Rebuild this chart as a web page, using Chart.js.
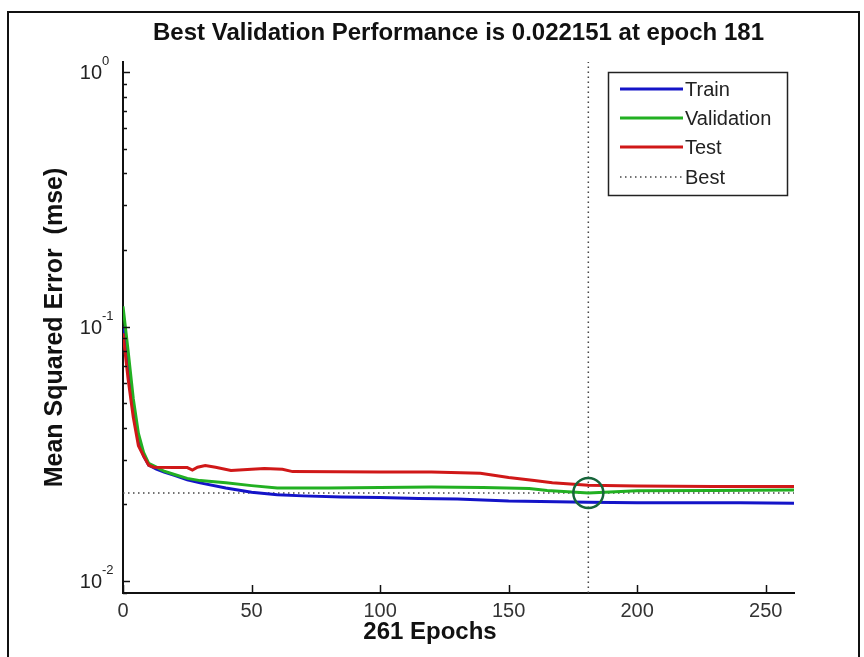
<!DOCTYPE html>
<html>
<head>
<meta charset="utf-8">
<script src="https://cdn.jsdelivr.net/npm/chart.js@4.4.0/dist/chart.umd.min.js"></script>
<style>
  html, body { margin: 0; padding: 0; background: #fff; }
  #wrap { position: relative; width: 864px; height: 657px; overflow: hidden; }
  #frame { position: absolute; left: 7px; top: 11px; width: 849px; height: 700px; border: 2px solid #111; }
  canvas { position: absolute; left: 0; top: 0; }
</style>
</head>
<body>
<div id="wrap">
  <div id="frame"></div>
  <canvas id="perfChart" width="864" height="657"></canvas>
</div>
<script>
// values
const trainEpochs = [0, 2, 4, 6, 8, 10, 13, 16, 20, 25, 30, 40, 50, 60, 70, 85, 100, 115, 130, 150, 181, 200, 240, 261];
const trainMse = [0.100, 0.070, 0.047, 0.036, 0.031, 0.0285, 0.0275, 0.0268, 0.0260, 0.0250, 0.0243, 0.0232, 0.0223, 0.0218, 0.0216, 0.0214, 0.0213, 0.0211, 0.0210, 0.0206, 0.0204, 0.0203, 0.0203, 0.0202];

const valEpochs = [0, 2, 4, 6, 8, 10, 13, 16, 20, 25, 30, 40, 50, 60, 80, 100, 120, 140, 158, 165, 181, 200, 230, 261];
const valMse = [0.120, 0.080, 0.052, 0.038, 0.032, 0.029, 0.028, 0.027, 0.0262, 0.0253, 0.0248, 0.0243, 0.0237, 0.0232, 0.0232, 0.0233, 0.0234, 0.0233, 0.0231, 0.0227, 0.022151, 0.0226, 0.0227, 0.0228];

const testEpochs = [0, 2, 4, 6, 8, 10, 12, 20, 25, 27, 29, 32, 36, 42, 50, 55, 62, 66, 100, 120, 139, 150, 160, 167, 181, 200, 230, 261];
const testMse = [0.094, 0.062, 0.044, 0.034, 0.031, 0.0285, 0.028, 0.0279, 0.0279, 0.0273, 0.028, 0.0284, 0.028, 0.0272, 0.0275, 0.0277, 0.0275, 0.0269, 0.0268, 0.0268, 0.0265, 0.0255, 0.0248, 0.0243, 0.0238, 0.0236, 0.0235, 0.0235];

const bestEpoch = 181;
const bestPerf = 0.022151;
const numEpochs = 261;

const xTicks = [0, 50, 100, 150, 200, 250];
const yMin = 0.00897, yMax = 1.095;

const toPoints = (xs, ys) => xs.map((x, i) => ({ x: x, y: ys[i] }));

// log ticks: 1..9 x 10^k inside the range, decades are major
const yTickValues = [];
for (let e = -3; e <= 0; e++) {
  for (let m = 1; m <= 9; m++) {
    const v = m * Math.pow(10, e);
    if (v >= yMin && v <= yMax) yTickValues.push(v);
  }
}

const FONT = "'Liberation Sans', Arial, sans-serif";

const matlabLook = {
  id: 'matlabLook',
  afterDraw(chart) {
    const ctx = chart.ctx;
    const xs = chart.scales.x, ys = chart.scales.y;
    const area = chart.chartArea;
    ctx.save();
    ctx.strokeStyle = '#111';
    ctx.lineWidth = 1.5;
    // inward tick marks
    xs.ticks.forEach(t => {
      const px = Math.round(xs.getPixelForValue(t.value)) + 0.5;
      ctx.beginPath(); ctx.moveTo(px, area.bottom); ctx.lineTo(px, area.bottom - 8); ctx.stroke();
    });
    ys.ticks.forEach(t => {
      const py = Math.round(ys.getPixelForValue(t.value)) + 0.5;
      const len = t.major ? 7 : 4;
      ctx.beginPath(); ctx.moveTo(area.left, py); ctx.lineTo(area.left + len, py); ctx.stroke();
    });
    // y labels as 10 with a raised exponent
    ctx.fillStyle = '#222';
    ys.ticks.filter(t => t.major).forEach(t => {
      const py = ys.getPixelForValue(t.value);
      const exp = String(Math.round(Math.log10(t.value)));
      ctx.font = '20px ' + FONT;
      ctx.textAlign = 'right';
      ctx.textBaseline = 'alphabetic';
      ctx.fillText('10', 102, py + 7);
      ctx.font = '13px ' + FONT;
      ctx.textAlign = 'left';
      ctx.fillText(exp, 102, py - 7);
    });
    // axis titles
    ctx.fillStyle = '#111';
    ctx.font = 'bold 24px ' + FONT;
    ctx.textAlign = 'center';
    ctx.textBaseline = 'middle';
    ctx.fillText(numEpochs + ' Epochs', 430, 632);
    ctx.font = 'bold 25px ' + FONT;
    ctx.translate(55, (area.top + area.bottom) / 2);
    ctx.rotate(-Math.PI / 2);
    ctx.fillText('Mean Squared Error  (mse)', 0, 0);
    ctx.restore();

    // legend box
    ctx.save();
    const bx = 608, by = 72, bw = 179, bh = 123;
    ctx.fillStyle = '#fff';
    ctx.fillRect(bx, by, bw, bh);
    ctx.strokeStyle = '#222';
    ctx.lineWidth = 1.5;
    ctx.strokeRect(bx + 0.5, by + 0.5, bw, bh);
    const rows = [89, 118, 147, 177];
    chart.data.datasets.filter(d => d.showInLegend).forEach((d, i) => {
      const y = rows[i];
      ctx.strokeStyle = d.borderColor;
      ctx.lineWidth = d.borderWidth;
      ctx.setLineDash(d.borderDash || []);
      ctx.beginPath(); ctx.moveTo(620, y); ctx.lineTo(683, y); ctx.stroke();
      ctx.setLineDash([]);
      ctx.fillStyle = '#222';
      ctx.font = '20px ' + FONT;
      ctx.textAlign = 'left';
      ctx.textBaseline = 'middle';
      ctx.fillText(d.label, 685, y + 1);
    });
    ctx.restore();
  }
};

const ctx = document.getElementById('perfChart').getContext('2d');
const perfChart = new Chart(ctx, {
  type: 'line',
  data: {
    datasets: [
      {
        label: 'Train', showInLegend: true,
        data: toPoints(trainEpochs, trainMse),
        borderColor: '#1414c8', borderWidth: 3, order: 4
      },
      {
        label: 'Validation', showInLegend: true,
        data: toPoints(valEpochs, valMse),
        borderColor: '#22b022', borderWidth: 3, order: 3
      },
      {
        label: 'Test', showInLegend: true,
        data: toPoints(testEpochs, testMse),
        borderColor: '#d01818', borderWidth: 3, order: 2
      },
      {
        label: 'Best', showInLegend: true,
        data: [{ x: bestEpoch, y: yMin }, { x: bestEpoch, y: yMax }],
        borderColor: '#444', borderWidth: 1.5, borderDash: [1.5, 3.5], order: 5
      },
      {
        label: 'Best level', showInLegend: false,
        data: [{ x: 0, y: bestPerf }, { x: numEpochs, y: bestPerf }],
        borderColor: '#444', borderWidth: 1.5, borderDash: [1.5, 3.5], order: 5
      },
      {
        label: 'Best point', showInLegend: false,
        data: [{ x: bestEpoch, y: bestPerf }],
        showLine: false, pointRadius: 15, pointStyle: 'circle',
        pointBorderColor: '#17653a', pointBorderWidth: 2.5,
        pointBackgroundColor: 'rgba(0,0,0,0)', order: 1
      }
    ]
  },
  options: {
    responsive: false,
    animation: false,
    elements: { point: { radius: 0 }, line: { tension: 0 } },
    layout: { padding: { left: 0, right: 70, top: 0, bottom: 0 } },
    scales: {
      x: {
        type: 'linear', min: 0, max: numEpochs,
        afterBuildTicks: s => { s.ticks = xTicks.map(v => ({ value: v })); },
        afterFit: s => { s.height = 64; },
        grid: { display: false, drawTicks: false },
        border: { display: true, color: '#111', width: 2 },
        ticks: { font: { size: 20, family: FONT }, color: '#333', padding: 6, maxRotation: 0 }
      },
      y: {
        type: 'logarithmic', min: yMin, max: yMax,
        afterBuildTicks: s => {
          s.ticks = yTickValues.map(v => ({ value: v, major: Math.abs(Math.log10(v) - Math.round(Math.log10(v))) < 1e-9 }));
        },
        afterFit: s => { s.width = 123; },
        grid: { display: false, drawTicks: false },
        border: { display: true, color: '#111', width: 2 },
        ticks: { display: false }
      }
    },
    plugins: {
      legend: { display: false },
      tooltip: { enabled: false },
      title: {
        display: true, fullSize: false,
        text: 'Best Validation Performance is ' + bestPerf + ' at epoch ' + bestEpoch,
        color: '#111',
        font: { size: 24, weight: 'bold', family: FONT, lineHeight: 1.2 },
        padding: { top: 19, bottom: 14.2 }
      }
    }
  },
  plugins: [matlabLook]
});
</script>
</body>
</html>
